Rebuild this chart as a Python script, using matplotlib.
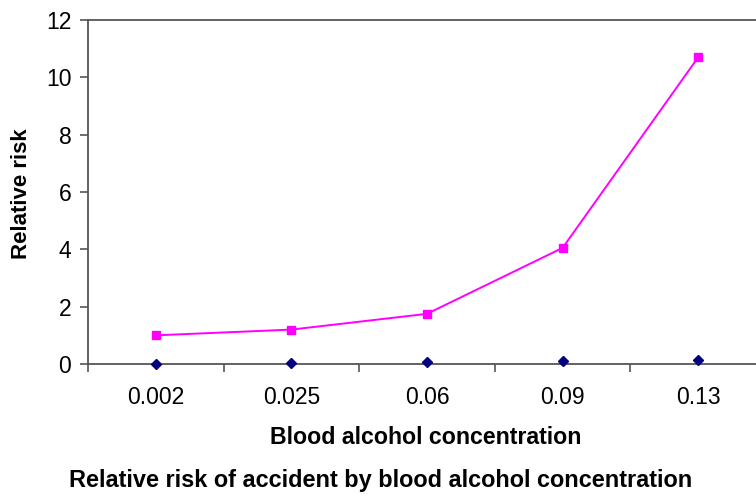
import numpy as np
import matplotlib
matplotlib.use("Agg")
import matplotlib.pyplot as plt

# ---- data ----
concentration = ["0.002", "0.025", "0.06", "0.09", "0.13"]
bac_values = [0.002, 0.025, 0.06, 0.09, 0.13]
relative_risk = [1.0, 1.2, 1.75, 4.05, 10.7]
y_ticks = [0, 2, 4, 6, 8, 10, 12]
# --------------

plt.rcParams.update({"font.family": "Liberation Sans"})

fig = plt.figure(figsize=(7.56, 4.94), dpi=100)
ax = fig.add_axes([88 / 756, 1 - 364 / 494, (766 - 88) / 756, (364 - 20) / 494])

x = np.arange(len(concentration))
ax.plot(x, bac_values, color="#000080", marker="D", markersize=5.5,
        linestyle="none", zorder=3, clip_on=False)
ax.plot(x, relative_risk, color="#FF00FF", marker="s", markersize=6,
        linewidth=1.4, zorder=4, clip_on=False)

ax.set_xlim(-0.5, len(concentration) - 0.5)
ax.set_ylim(0, 12)
ax.set_yticks(y_ticks)
ax.set_yticklabels([str(v) for v in y_ticks])

# category labels centred, tick marks between categories
ax.set_xticks(x)
ax.set_xticklabels(concentration)
ax.set_xticks(np.arange(len(concentration) + 1) - 0.5, minor=True)
ax.tick_params(axis="x", which="major", length=0, pad=16, labelsize=16.5)
ax.tick_params(axis="x", which="minor", length=6, width=1.2, color="#555555")
ax.tick_params(axis="y", length=6, width=1.2, color="#555555", pad=6,
               labelsize=16.5)

for side in ["left", "bottom", "top"]:
    ax.spines[side].set_color("#555555")
    ax.spines[side].set_linewidth(1.3)
ax.spines["right"].set_visible(False)

ax.set_xlabel("Blood alcohol concentration", fontsize=16.7, fontweight="bold",
              va="center")
ax.set_ylabel("Relative risk", fontsize=16, fontweight="bold",
              va="center", ha="center")
ax.xaxis.set_label_coords((426 - 88) / 678, -(437 - 364) / 344)
ax.yaxis.set_label_coords(-(88 - 22) / 678, (364 - 194) / 344)

fig.text(381 / 756, 1 - 480 / 494,
         "Relative risk of accident by blood alcohol concentration",
         ha="center", va="center", fontsize=16.9, fontweight="bold")

fig.savefig("out.png", dpi=100)
